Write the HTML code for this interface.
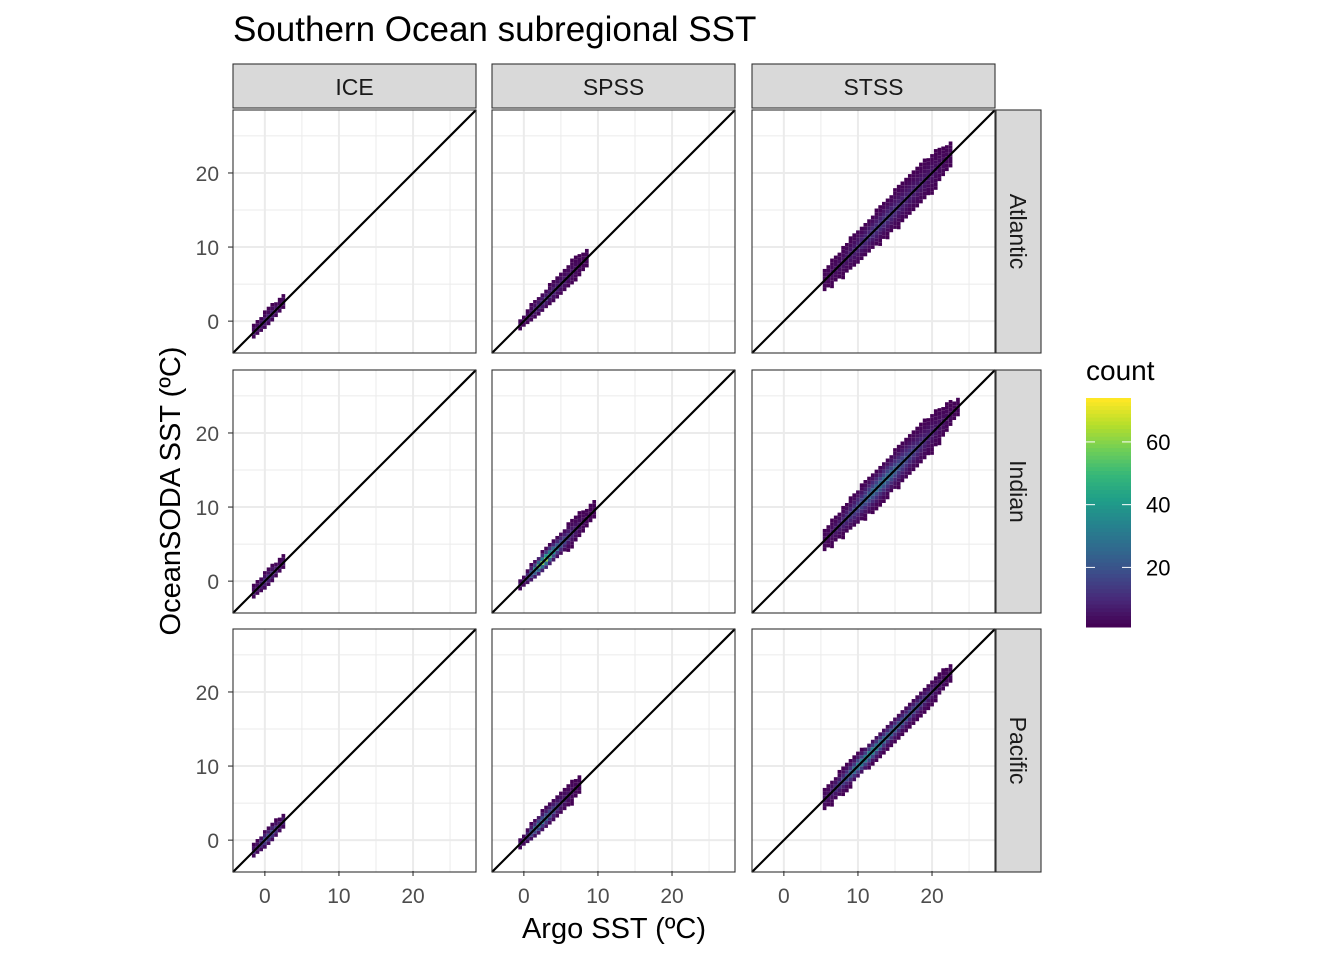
<!DOCTYPE html>
<html><head><meta charset="utf-8"><style>
body{margin:0;background:#fff}
svg{display:block;font-family:"Liberation Sans",sans-serif}
</style></head><body>
<svg id="c" width="1344" height="960" xmlns="http://www.w3.org/2000/svg"></svg>
<script>
// ---- data ----
const columns = ["ICE","SPSS","STSS"];
const rows = ["Atlantic","Indian","Pacific"];
const xTicks = [0,10,20];
const yTicks = [0,10,20];
const legendTicks = [20,40,60];
// per panel: bin centers (°C), half-width of scatter, peak count
const panelBinX = [
 [-1,0,1,2],[0,1,2,3,4,5,6,7,8],[6,8,10,12,14,16,18,20,22],
 [-1,0,1,2],[0,1,2,3,4,5,6,7,8,9],[6,8,10,12,14,16,18,20,22,23],
 [-1,0,1,2],[0,1,2,3,4,5,6,7],[6,8,10,12,14,16,18,20,22]
];
const panelHalfW = [
 [0.6,0.8,0.8,0.6],[0.5,0.8,1,1,1.2,1.2,1.2,1.4,1],[1.2,1.6,2,2,2.2,2.4,2.4,2.2,1.5],
 [0.6,0.9,0.9,0.6],[0.5,0.8,1,1.1,1.1,1.2,1.3,1.4,1.2,0.8],[1.2,1.6,2,2.2,2.2,2.4,2.4,2.2,1.6,1],
 [0.6,0.9,0.9,0.7],[0.5,0.8,1,1.1,1.2,1.2,1.2,1],[1.2,1.3,1.3,1.2,1.2,1.2,1.2,1.2,1]
];
const panelPeak = [
 [6,10,10,5],[4,8,12,12,10,8,6,4,2],[3,6,10,14,14,10,8,6,3],
 [6,12,12,6],[6,30,55,70,45,25,15,8,4,2],[4,12,20,30,32,22,14,8,4,2],
 [10,22,22,10],[6,25,35,30,20,10,6,3],[6,20,40,45,30,25,20,10,4]
];
// ---- layout ----
const S=document.getElementById('c');
const NS="http://www.w3.org/2000/svg";
function el(t,a,p){const e=document.createElementNS(NS,t);for(const k in a)e.setAttribute(k,a[k]);(p||S).appendChild(e);return e;}
const colX=[233,492,752], rowY=[110,370,629], PW=243, PH=243;
const DMIN=-4.3, DMAX=28.5;
function sx(c,v){return colX[c]+(v-DMIN)/(DMAX-DMIN)*PW;}
function sy(r,v){return rowY[r]+PH-(v-DMIN)/(DMAX-DMIN)*PH;}
function viridis(t){
 const st=[[68,1,84],[72,40,120],[62,74,137],[49,104,142],[38,130,142],[31,158,137],[53,183,121],[110,206,88],[181,222,43],[253,231,37]];
 t=Math.max(0,Math.min(1,t))*(st.length-1);const i=Math.min(st.length-2,Math.floor(t)),f=t-i;
 const c=st[i].map((v,k)=>Math.round(v+(st[i+1][k]-v)*f));return `rgb(${c})`;
}
const CMIN=1,CMAX=74;
// title
let t=el('text',{x:233,y:41,'font-size':'35','fill':'#000'});t.textContent="Southern Ocean subregional SST";

for(let r=0;r<3;r++)for(let c=0;c<3;c++){
 const g=el('g',{});
 
 
 el('rect',{x:colX[c],y:rowY[r],width:PW,height:PH,fill:'#fff'},g);
 for(let v=-5;v<=30;v+=5){const w=(v%10===0)?2:1;
  const X=sx(c,v);if(X>colX[c]&&X<colX[c]+PW)el('line',{x1:X,x2:X,y1:rowY[r],y2:rowY[r]+PH,stroke:'#ebebeb','stroke-width':w},g);
  const Y=sy(r,v);if(Y>rowY[r]&&Y<rowY[r]+PH)el('line',{x1:colX[c],x2:colX[c]+PW,y1:Y,y2:Y,stroke:'#ebebeb','stroke-width':w},g);}
 const i=r*3+c, bx=panelBinX[i], hw=panelHalfW[i], pk=panelPeak[i];
 const cw=sx(0,0.5)-sx(0,0);
 for(let x=bx[0]-0.5;x<=bx[bx.length-1]+0.5;x+=0.5){
  let j=0;while(j<bx.length-2&&x>bx[j+1])j++;
  let f=(x-bx[j])/(bx[j+1]-bx[j]||1);f=Math.max(0,Math.min(1,f));
  const h=hw[j]+(hw[j+1]-hw[j])*f, p=pk[j]+(pk[j+1]-pk[j])*f;
  for(let y=x-h-0.5;y<=x+h+0.5;y+=0.5){
   const d=Math.abs(y-x)/(h+0.5);const n=p*Math.pow(1-d,2)+1;
   if(d>=1)continue;
   const cell=el('rect',{x:sx(c,x-0.25),y:sy(r,y+0.25),width:cw,height:cw,fill:viridis((n-CMIN)/(CMAX-CMIN))},g);
   
   
  }
 }
 el('line',{x1:colX[c],y1:rowY[r]+PH,x2:colX[c]+PW,y2:rowY[r],stroke:'#000','stroke-width':2.2},g);
 el('rect',{x:colX[c],y:rowY[r],width:PW,height:PH,fill:'none',stroke:'#333','stroke-width':1.1},g);
}
// strips top
for(let c=0;c<3;c++){
 const s=el('rect',{x:colX[c],y:64,width:PW,height:44,fill:'#d9d9d9',stroke:'#333','stroke-width':1.1});
 
 const tt=el('text',{x:colX[c]+PW/2,y:95,'font-size':'23','text-anchor':'middle',fill:'#1a1a1a'});tt.textContent=columns[c];
}
for(let r=0;r<3;r++){
 const s=el('rect',{x:996,y:rowY[r],width:45,height:PH,fill:'#d9d9d9',stroke:'#333','stroke-width':1.1});
 
 const tt=el('text',{x:0,y:0,'font-size':'23','text-anchor':'middle',fill:'#1a1a1a',transform:`translate(1010,${rowY[r]+PH/2}) rotate(90)`});tt.textContent=rows[r];
}
// axes ticks
for(let r=0;r<3;r++)for(const v of yTicks){const Y=sy(r,v);
 el('line',{x1:228,x2:233,y1:Y,y2:Y,stroke:'#333','stroke-width':1.1});
 const tt=el('text',{x:219,y:Y+8,'font-size':'21','text-anchor':'end',fill:'#4d4d4d'});tt.textContent=v;}
for(let c=0;c<3;c++)for(const v of xTicks){const X=sx(c,v);
 el('line',{x1:X,x2:X,y1:871,y2:876,stroke:'#333','stroke-width':1.1});
 const tt=el('text',{x:X,y:903,'font-size':'21','text-anchor':'middle',fill:'#4d4d4d'});tt.textContent=v;}
let xl=el('text',{x:614,y:938,'font-size':'29','text-anchor':'middle'});xl.textContent="Argo SST (ºC)";

let yl=el('text',{x:0,y:0,'font-size':'29','text-anchor':'middle',transform:'translate(180,491) rotate(-90)'});yl.textContent="OceanSODA SST (ºC)";

// legend
const lg=el('g',{});
let lt=el('text',{x:1086,y:380,'font-size':'28'},lg);lt.textContent="count";
const LT=398,LB=627;
function ly(v){return LB-(v-CMIN)/(CMAX-CMIN)*(LB-LT);}
for(let k=0;k<60;k++){const v0=CMIN+(CMAX-CMIN)*k/60,v1=CMIN+(CMAX-CMIN)*(k+1)/60;
 el('rect',{x:1086,y:ly(v1),width:45,height:ly(v0)-ly(v1)+0.5,fill:viridis(k/59)},lg);}
for(const v of legendTicks){const Y=ly(v);
 el('line',{x1:1086,x2:1095,y1:Y,y2:Y,stroke:'#fff','stroke-width':1},lg);
 el('line',{x1:1122,x2:1131,y1:Y,y2:Y,stroke:'#fff','stroke-width':1},lg);
 const tt=el('text',{x:1146,y:Y+8,'font-size':'22'},lg);tt.textContent=v;}
</script>
</body></html>
